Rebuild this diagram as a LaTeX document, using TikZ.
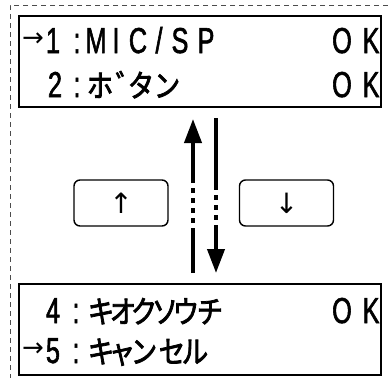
\documentclass[tikz,border=0pt]{standalone}
\usepackage{fontspec}
\newfontfamily\lcdfont[FakeStretch=0.7, FakeBold=1.6]{Liberation Sans}
\newfontfamily\kanafont[FakeStretch=0.85, FakeBold=2.4]{Noto Sans CJK JP}
\newfontfamily\symfont{DejaVu Sans}
\usetikzlibrary{arrows.meta}
\tikzset{
  screen/.style={draw, line width=2pt, minimum width=362pt, minimum height=91pt, inner sep=0pt},
  key/.style={draw, rounded corners=6pt, line width=1.4pt, minimum width=94pt,
              minimum height=46pt, inner sep=0pt, font=\symfont\fontsize{28}{28}\selectfont},
  glyph/.style={inner sep=0pt, anchor=base, font=\lcdfont\fontsize{36}{36}\selectfont},
  kana/.style={inner sep=0pt, anchor=base, font=\kanafont\fontsize{31}{31}\selectfont},
  cursor/.style={inner sep=0pt, font=\symfont\fontsize{26}{26}\selectfont},
  scroll/.style={line width=4pt},
  gapped/.style={line width=4pt, dash pattern=on 5pt off 5pt},
  frame/.style={dashed, dash pattern=on 5pt off 4pt, line width=0.9pt, black!70},
  tip/.style={-{Triangle[length=24pt,width=17pt]}},
}

\begin{document}
\begin{tikzpicture}[x=1pt,y=-1pt]
  \useasboundingbox (0,0) rectangle (388,378);
  % dashed outline of the menu
  \draw[frame] (388,5) -- (10,5) -- (10,378);

  % upper screen
  \node[screen] (scrA) at (200,61.5) {};
  \node[cursor] (curA) at (33,40) {→};
  \foreach \c/\x [count=\i] in {1/53, :/77, M/96, I/116, C/138, {/}/159, S/180, P/206}
    \node[glyph] (ra\i) at (\x,53) {\c};
  \node[glyph] (okA) at (342,53) {O};
  \node[glyph] (okAk) at (371,53) {K};
  \node[glyph] (rb1) at (55,97) {2};
  \node[glyph] (rb2) at (77,97) {:};
  \foreach \c/\x [count=\i] in {ホ/100, ゛/129, タ/141, ン/167}
    \node[kana] (kb\i) at (\x,97) {\c};
  \node[glyph] (okB) at (342,97) {O};
  \node[glyph] (okBk) at (371,97) {K};

  % keys
  \node[key] (keyUp) at (121,203) {↑};
  \node[key] (keyDown) at (286.5,203) {↓};

  % scroll arrows
  \coordinate (upFoot) at (193,273);
  \coordinate (upMidA) at (193,233);
  \coordinate (upMidB) at (193,178);
  \coordinate (upTip) at (193,119);
  \draw[scroll] (upFoot) -- (upMidA);
  \draw[gapped] (upMidA) -- (upMidB);
  \draw[scroll, tip] (upMidB) -- (upTip);
  \coordinate (dnTop) at (216,118);
  \coordinate (dnMidA) at (216,185);
  \coordinate (dnMidB) at (216,225);
  \coordinate (dnTip) at (216,273);
  \draw[scroll] (dnTop) -- (dnMidA);
  \draw[gapped] (dnMidA) -- (dnMidB);
  \draw[scroll, tip] (dnMidB) -- (dnTip);

  % lower screen
  \node[screen] (scrB) at (200,329) {};
  \node[glyph] (rc1) at (53,323) {4};
  \node[glyph] (rc2) at (76,323) {:};
  \foreach \c/\x [count=\i] in {キ/101, オ/123, ク/144, ソ/165, ウ/186, チ/210}
    \node[kana] (kc\i) at (\x,323) {\c};
  \node[glyph] (okC) at (342,323) {O};
  \node[glyph] (okCk) at (371,323) {K};
  \node[cursor] (curB) at (33,350) {→};
  \node[glyph] (rd1) at (53,363) {5};
  \node[glyph] (rd2) at (76,363) {:};
  \foreach \c/\x [count=\i] in {キ/101, ャ/122, ン/144, セ/172, ル/195}
    \node[kana] (kd\i) at (\x,363) {\c};
\end{tikzpicture}
\end{document}
